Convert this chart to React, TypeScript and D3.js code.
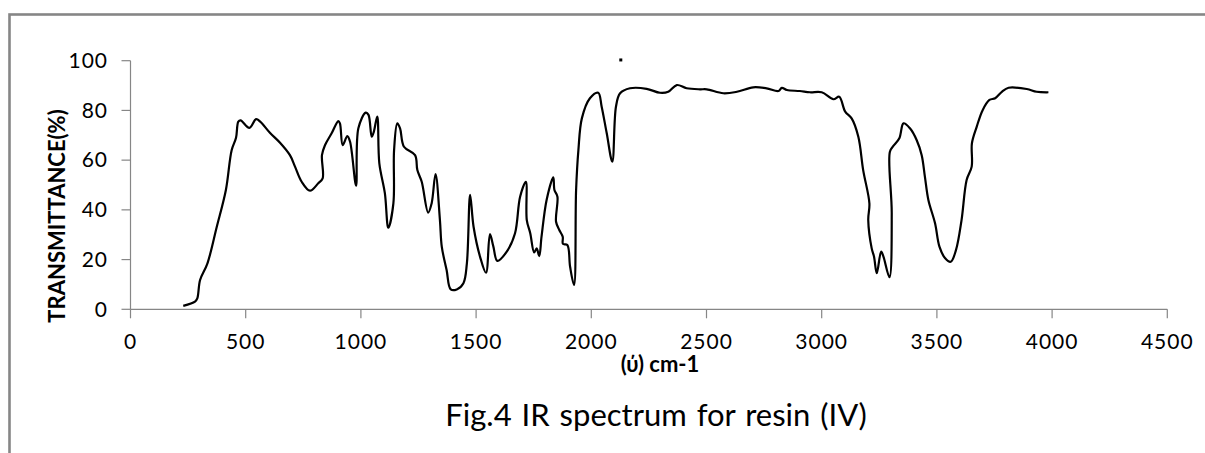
import React from "react";
import * as d3 from "d3";

const wavenumbers: number[] = [
  229, 280, 290, 302, 334, 374, 414, 439, 458, 468, 478, 516, 545, 563, 605, 649, 692, 714, 743, 779,
  815, 834, 831, 844, 873, 902, 909, 921, 941, 953, 979, 989, 1021, 1033, 1047, 1056, 1071, 1080, 1104, 1119,
  1141, 1144, 1158, 1170, 1187, 1235, 1245, 1264, 1292, 1307, 1324, 1343, 1351, 1372, 1390, 1416, 1445, 1460, 1474, 1489,
  1517, 1543, 1560, 1575, 1592, 1633, 1669, 1691, 1716, 1720, 1735, 1752, 1763, 1774, 1784, 1806, 1835, 1840, 1853, 1847,
  1861, 1876, 1877, 1896, 1908, 1925, 1934, 1944, 1959, 1994, 2030, 2045, 2067, 2091, 2107, 2125, 2168, 2240, 2298, 2334,
  2371, 2414, 2472, 2501, 2573, 2632, 2703, 2761, 2812, 2827, 2849, 2905, 2949, 3000, 3051, 3076, 3102, 3130, 3159, 3180,
  3207, 3202, 3217, 3227, 3239, 3258, 3268, 3294, 3304, 3296, 3311, 3337, 3355, 3383, 3412, 3434, 3448, 3463, 3492, 3511,
  3536, 3560, 3583, 3607, 3629, 3651, 3652, 3673, 3699, 3728, 3753, 3782, 3811, 3890, 3933, 3984,
];

const transmittance: number[] = [
  1.4, 3.1, 4.4, 11.8, 18.5, 33, 48, 64, 69, 75.5, 76, 73, 76.5, 75.5, 71, 67, 62, 57.4, 51.3, 47.7,
  50.7, 52.7, 62, 66, 70.8, 75.7, 74.8, 66, 69.7, 67.4, 49.7, 72.8, 79.1, 78.2, 69.4, 71.4, 77.5, 58.7, 46.7, 32.8,
  42.6, 64, 74.8, 72.8, 65.4, 62, 56, 51.3, 38.9, 42.6, 54.4, 35.9, 25.2, 15.8, 8, 8, 10.5, 18.5, 46, 33.2,
  21.2, 14.7, 30.2, 25.2, 19.5, 23.2, 30.6, 45.3, 51.3, 35.9, 30.6, 22.9, 24.5, 21.4, 29.2, 44, 53.1, 48, 45.3, 35.2,
  31.9, 29.2, 26.3, 25.9, 17.1, 9.8, 48, 64, 76.8, 84.9, 87.1, 81.5, 70.8, 59.4, 81.5, 86.9, 88.9, 88.7, 87.1, 87.5,
  90.2, 88.9, 88.5, 88.5, 86.9, 87.5, 89.3, 88.9, 87.8, 89.1, 88.2, 87.8, 87.3, 87.3, 84.5, 85.5, 79.5, 76.8, 69.4, 56,
  42.6, 35.9, 24.5, 21.2, 14.5, 23.2, 21.2, 12.9, 38.6, 63.4, 65.7, 68.8, 74.8, 72.8, 68.1, 62, 53.3, 44, 34.6, 25.2,
  20.5, 19.1, 23.9, 35.9, 52, 57.4, 66.8, 73.5, 80.2, 84.2, 84.9, 87.5, 89.1, 88.6, 87.5, 87.3,
];

const strayPoint: [number, number] = [2128, 100.3];

const xTicks: number[] = [0, 500, 1000, 1500, 2000, 2500, 3000, 3500, 4000, 4500];
const yTicks: number[] = [0, 20, 40, 60, 80, 100];

const yAxisTitle = "TRANSMITTANCE(%)";
const xAxisTitle = "(ύ) cm-1";
const chartTitle = "Fig.4 IR spectrum for resin (IV)";

export default function App() {
  const W = 1205;
  const H = 453;
  const x = d3.scaleLinear().domain([0, 4500]).range([130.5, 1167.3]);
  const y = d3.scaleLinear().domain([0, 100]).range([309.3, 60.7]);
  const pts: [number, number][] = wavenumbers.map((w, i) => [w, transmittance[i]]);
  const line = d3
    .line<[number, number]>()
    .x((d) => x(d[0]))
    .y((d) => y(d[1]))
    .curve(d3.curveCatmullRom.alpha(0.5));
  const gray = "#868686";
  const font = "Lato, 'Open Sans', sans-serif";
  return (
    <svg
      width={W}
      height={H}
      style={{ position: "absolute", left: 0, top: 0, background: "#fff" }}
    >
      <rect x={0} y={0} width={W} height={H} fill="#fff" />
      <rect x={9.5} y={14.5} width={1400} height={600} fill="none" stroke={gray} strokeWidth={2.6} />
      {/* y axis */}
      <line x1={x(0)} x2={x(0)} y1={y(100)} y2={y(0)} stroke={gray} strokeWidth={1.2} />
      {yTicks.map((t) => (
        <g key={"yt" + t}>
          <line x1={x(0) - 9} x2={x(0)} y1={y(t)} y2={y(t)} stroke={gray} strokeWidth={1.2} />
          <text
            x={108}
            y={y(t)}
            dy="0.35em"
            textAnchor="end"
            fontFamily={font}
            fontSize={21}
            letterSpacing={1}
            fill="#000"
          >
            {t}
          </text>
        </g>
      ))}
      {/* x axis */}
      <line x1={x(0)} x2={x(4500)} y1={y(0)} y2={y(0)} stroke={gray} strokeWidth={1.2} />
      {xTicks.map((t) => (
        <g key={"xt" + t}>
          <line x1={x(t)} x2={x(t)} y1={y(0)} y2={y(0) + 9} stroke={gray} strokeWidth={1.2} />
          <text
            x={x(t)}
            y={342}
            dy="0.35em"
            textAnchor="middle"
            fontFamily={font}
            fontSize={21}
            letterSpacing={1}
            fill="#000"
          >
            {t}
          </text>
        </g>
      ))}
      <path d={line(pts) || ""} fill="none" stroke="#000" strokeWidth={2.2} strokeLinejoin="round" />
      <rect x={x(strayPoint[0]) - 1.5} y={y(strayPoint[1]) - 1.5} width={3} height={3} fill="#000" />
      <text
        transform={`translate(${57},${216}) rotate(-90)`}
        textAnchor="middle"
        dy="0.35em"
        fontFamily={font}
        fontWeight="bold"
        fontSize={22}
        fill="#000"
      >
        {yAxisTitle}
      </text>
      <text
        x={660}
        y={364}
        dy="0.35em"
        textAnchor="middle"
        fontFamily={font}
        fontWeight="bold"
        fontSize={22}
        fill="#000"
      >
        {xAxisTitle}
      </text>
      <text
        x={656}
        y={415}
        dy="0.35em"
        textAnchor="middle"
        fontFamily={font}
        fontSize={31}
        wordSpacing={2}
        fill="#000"
      >
        {chartTitle}
      </text>
    </svg>
  );
}
